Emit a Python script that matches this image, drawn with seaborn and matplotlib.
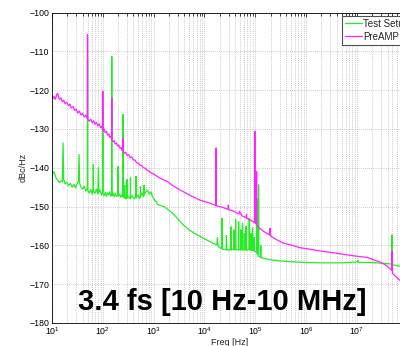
import matplotlib
matplotlib.use("Agg")
import matplotlib.pyplot as plt
import numpy as np
import pandas as pd
import seaborn as sns
from matplotlib.ticker import LogLocator, NullFormatter, FixedLocator, FixedFormatter

# ---------------- data ----------------
series_names = ["Test Setup", "PreAMP"]
series_colors = ["#22ee22", "#ff22ff"]

green_freq = [10, 10.5, 11, 11.5, 12, 13, 14, 15, 16, 16.5, 17, 18, 19.5, 21, 23, 25, 27, 29, 31, 33,
              34, 35, 37, 40, 43, 46, 49.5, 50, 50.5, 54, 58, 62, 64.5, 65, 65.5, 70, 75, 80, 82, 84,
              88, 94, 99.5, 100, 100.5, 106, 112, 118, 124, 130, 137, 143, 149.5, 150, 150.5, 158, 166,
              175, 185, 199.5, 200, 200.5, 212, 225, 238, 249.5, 250, 250.5, 262, 269.5, 270, 270.5, 285,
              299.5, 300, 300.5, 320, 349.5, 350, 350.5, 380, 410, 449.5, 450, 450.5, 490, 520, 549.5,
              550, 550.5, 590, 630, 649.5, 650, 650.5, 700, 760, 820, 880, 940, 1000, 1060, 1130, 1200,
              1600, 2400, 3800, 5000, 6500, 8000, 11000, 14000, 17500, 18000, 18500, 20000, 21800,
              22000, 22300, 25000, 26800, 27000, 27300, 30000, 32800, 33000, 33300, 37800, 38000,
              38300, 40800, 41000, 41300, 46800, 47000, 47300, 51800, 52000, 52300, 55800, 56000,
              56300, 60800, 61000, 61300, 65800, 66000, 66300, 75800, 76000, 76300, 81800, 82000,
              82300, 87800, 88000, 88300, 94800, 95000, 95300, 107500, 108000, 108500, 115500,
              116000, 116500, 127500, 128000, 128500, 140000, 200000, 300000, 500000, 1e6, 2e6,
              5e6, 1.0e7, 1.05e7, 1.1e7, 2e7, 3e7, 4.8e7, 4.9e7, 5.0e7, 7e7, 1e8]
green_db = [-142.0, -141.3, -141.0, -141.8, -142.6, -143.2, -143.8, -143.4, -143.6, -133.6, -143.0,
            -144.2, -143.7, -144.6, -144.0, -145.0, -144.3, -145.2, -144.2, -143.5,
            -136.6, -144.0, -145.0, -145.5, -144.8, -146.0, -145.2, -112.0, -145.8, -146.5, -145.6,
            -146.8, -145.5, -139.2, -146.0, -146.6, -145.5, -146.8, -140.0, -146.3,
            -145.8, -147.0, -146.2, -125.5, -146.5, -147.2, -146.4, -147.4, -146.5, -147.0, -146.2,
            -147.3, -147.0, -111.3, -147.2, -146.4, -147.5,
            -146.6, -147.4, -147.0, -139.7, -147.3, -146.8, -147.6, -146.9, -147.4, -126.3, -147.6,
            -147.0, -147.8, -144.5, -147.6, -148.0,
            -147.6, -143.0, -147.8, -147.5, -148.0, -142.6, -147.8, -147.2, -148.0, -147.5, -142.2,
            -147.8, -147.0, -148.0, -147.3,
            -144.8, -147.5, -146.5, -147.4, -146.8, -144.5, -147.0, -146.2, -145.8, -146.8, -146.2,
            -147.3, -147.8, -148.5, -148.8, -149.5,
            -150.0, -151.8, -154.7, -156.0, -157.0, -157.6, -158.6, -159.3, -159.9, -158.0, -160.2,
            -160.6, -160.8,
            -153.0, -161.0, -161.0, -161.2, -157.5, -161.0, -161.3, -161.0, -155.2, -161.2, -160.8,
            -156.0, -161.2, -161.0, -153.4, -161.1, -161.2, -153.9, -161.0, -161.2, -156.0, -161.0,
            -161.1, -154.3, -161.2, -161.0, -157.0, -161.2, -161.0, -155.0, -161.3, -161.0, -153.0,
            -161.2, -161.0, -157.0, -161.2, -161.3, -155.5, -161.0, -161.3, -158.0, -161.5, -161.8,
            -148.0, -162.2, -162.5, -144.4, -162.8, -163.0, -160.0, -163.2, -163.3, -163.7, -164.0,
            -164.2, -164.4, -164.5, -164.5, -164.3, -163.8, -164.4, -164.4, -164.6, -164.8, -157.3,
            -165.0, -165.4, -165.6]

preamp_freq = [10, 10.5, 11, 11.5, 12, 12.5, 13, 13.5, 14, 15, 16, 17, 18, 19.5, 21, 22.5, 24, 26,
               28, 30, 32, 34.5, 37, 40, 43, 46, 49.5, 50, 50.5, 54, 58, 62, 66, 70, 75, 80, 85, 90,
               95, 99.5, 100, 100.5, 106, 112, 118, 124, 131, 138, 144, 149.5, 150, 150.5, 158, 166,
               175, 185, 195, 205, 218, 230, 240, 249.5, 250, 250.5, 265, 280, 300, 320, 345, 370,
               400, 430, 460, 500, 540, 580, 630, 680, 740, 800, 870, 970, 1100, 1300, 1500, 1830,
               2300, 3300, 5000, 8000, 12000, 16700, 16900, 17100, 20000, 25000, 29000, 29500,
               30000, 36000, 45000, 48000, 49000, 55000, 66000, 67000, 68000, 80000, 97000, 98000,
               99000, 105000, 106000, 107000, 120000, 150000, 190000, 195000, 200000, 260000,
               355000, 500000, 760000, 1.2e6, 2e6, 3.4e6, 6e6, 1.15e7, 1.6e7, 2.1e7, 3e7, 3.9e7,
               4.8e7, 4.9e7, 5e7, 6e7, 7e7, 1e8]
preamp_db = [-121.5, -122.1, -121.6, -122.4, -121.8, -121.0, -120.9, -121.7, -122.4, -122.0, -123.0,
             -122.6, -123.5, -123.1, -124.0, -123.6, -124.6, -124.2,
             -125.3, -124.9, -125.9, -125.4, -126.4, -126.0, -126.9, -126.5, -127.3, -105.7, -127.5,
             -128.0, -127.5, -128.4, -127.9, -128.8, -128.3, -129.2, -128.7, -129.7,
             -129.3, -130.2, -120.3, -130.4, -130.0, -131.0, -130.6, -131.6, -131.3, -132.2, -131.9,
             -132.6, -122.0, -132.9, -133.3, -133.0,
             -133.9, -133.6, -134.4, -134.1, -135.0, -134.8, -135.6, -135.4, -132.5, -135.8, -136.3,
             -136.0, -136.8, -136.6, -137.4, -137.2,
             -138.0, -138.0, -138.7, -138.8, -139.4, -139.4, -140.0, -140.1, -140.6, -140.8, -141.2,
             -141.5, -142.0, -142.6, -143.0, -143.5,
             -144.5, -145.7, -147.0, -148.3, -149.0, -149.7, -134.9, -149.8, -150.0, -150.4, -150.7,
             -149.6,
             -150.8, -151.1, -151.8, -151.9, -151.2, -152.4, -152.9, -152.0, -153.0, -153.5, -154.1,
             -130.6,
             -154.2, -154.5, -141.0, -154.7, -155.6, -156.5, -157.3, -155.6, -157.6, -158.5,
             -159.4, -159.9, -160.6, -161.0, -161.5, -161.9, -162.4, -162.9, -163.1, -163.7, -164.4,
             -165.3, -166.4, -161.5, -167.2, -168.2, -169.0, -171.0]

y_ticks = [-180, -170, -160, -150, -140, -130, -120, -110, -100]
x_ticks = [1e1, 1e2, 1e3, 1e4, 1e5, 1e6, 1e7, 1e8]
x_tick_labels = ["$10^{1}$", "$10^{2}$", "$10^{3}$", "$10^{4}$", "$10^{5}$", "$10^{6}$", "$10^{7}$", ""]
x_limits = (10, 1e8)
annotation = "3.4 fs [10 Hz-10 MHz]"
x_label = "Freq [Hz]"
y_label = "dBc/Hz"

# ---------------- styling ----------------
sns.set_theme(style="white")
plt.rcParams["font.family"] = ["Liberation Sans", "DejaVu Sans"]
plt.rcParams["mathtext.fontset"] = "custom"
plt.rcParams["mathtext.rm"] = "Liberation Sans"
plt.rcParams["mathtext.it"] = "Liberation Sans:italic"
plt.rcParams["mathtext.bf"] = "Liberation Sans:bold"

df = pd.concat([
    pd.DataFrame({"freq": green_freq, "db": green_db, "series": series_names[0]}),
    pd.DataFrame({"freq": preamp_freq, "db": preamp_db, "series": series_names[1]}),
], ignore_index=True)

fig = plt.figure(figsize=(4.0, 3.46), dpi=100)
ax = fig.add_axes([52 / 400, 1 - 323 / 346, (407.8 - 52) / 400, (323 - 12.5) / 346])
ax.set_xscale("log")

sns.lineplot(data=df, x="freq", y="db", hue="series", hue_order=series_names,
             palette=series_colors, estimator=None, sort=False, linewidth=0.9,
             legend=False, ax=ax)

ax.set_xlim(*x_limits)
ax.set_ylim(y_ticks[0], y_ticks[-1])
ax.yaxis.set_major_locator(FixedLocator(y_ticks))
ax.xaxis.set_major_locator(FixedLocator(x_ticks))
ax.xaxis.set_major_formatter(FixedFormatter(x_tick_labels))
ax.xaxis.set_minor_locator(LogLocator(base=10, subs=np.arange(2, 10), numticks=20))
ax.xaxis.set_minor_formatter(NullFormatter())

ax.grid(True, which="major", axis="both", color="#b8b8b8", linestyle=(0, (1, 1.5)), linewidth=0.6)
ax.grid(True, which="minor", axis="x", color="#b8b8b8", linestyle=(0, (1, 1.5)), linewidth=0.6)

ax.tick_params(axis="both", which="both", direction="in", top=True, right=True,
               labelsize=6.3, colors="black", pad=2)
ax.tick_params(which="major", length=3, width=0.5)
ax.tick_params(which="minor", length=1.8, width=0.5)
for s in ax.spines.values():
    s.set_color("black")
    s.set_linewidth(0.6)

ax.set_xlabel(x_label, fontsize=6.5, labelpad=0.5)
ax.set_ylabel(y_label, fontsize=6.5, labelpad=1)

handles = ax.get_lines()[:2]
leg = ax.legend(handles, series_names, loc="upper left",
                bbox_to_anchor=(342 / 400, 1 - 15.5 / 346), bbox_transform=fig.transFigure,
                borderaxespad=0, frameon=True, fancybox=False, fontsize=7,
                handlelength=1.7, handletextpad=0.15, borderpad=0.35, labelspacing=0.3)
leg.get_frame().set_edgecolor("#505050")
leg.get_frame().set_linewidth(0.8)
leg.get_frame().set_facecolor("white")
leg.get_frame().set_alpha(1)

fig.text(222.5 / 400, 1 - 310 / 346, annotation, ha="center", va="baseline",
         fontsize=21, fontweight="bold", color="black")

fig.savefig("out.png", dpi=100)
